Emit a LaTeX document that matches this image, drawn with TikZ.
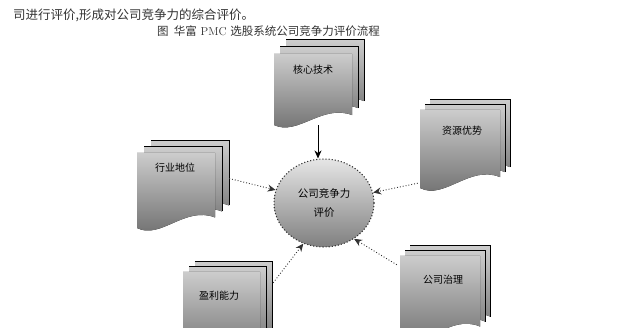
\documentclass[tikz,border=0pt]{standalone}
\usepackage{fontspec}
\newfontfamily\cjk{Noto Sans CJK SC}
\usetikzlibrary{arrows.meta,shapes.geometric}
\tikzset{
  docfill/.style={top color=black!20, bottom color=black!58, draw=none},
  docedge/.style={draw=black, line width=1pt},
  docbox/.style={rectangle, draw=none, inner sep=0pt},
  doclabel/.style={font=\cjk\fontsize{10}{12}\selectfont, inner sep=0pt, text=black},
  hub/.style={ellipse, draw=black!80, dotted, line width=1.1pt, top color=black!10, bottom color=black!50,
    minimum width=100pt, minimum height=88pt, inner sep=0pt, align=center,
    font=\cjk\fontsize{10.5}{12}\selectfont},
  feed/.style={-{Stealth[length=8pt,width=7pt]}, line width=0.9pt, black},
  dotfeed/.style={feed, dotted, draw=black!80},
  bodytext/.style={font=\cjk\fontsize{12.5}{14}\selectfont, inner sep=0pt, text=black!80},
  captext/.style={font=\fontsize{11.5}{14}\selectfont, inner sep=0pt, text=black!80},
}
% one page of a document stack: x y w h, top-left corner, y downward
\newcommand\docpage[5]{%
  \fill[docfill] (#1,#2) -- ({#1+#3},#2) -- ({#1+#3},{#2+0.86*#4})
    .. controls ({#1+0.62*#3},{#2+0.70*#4}) and ({#1+0.30*#3},{#2+1.16*#4}) .. (#1,{#2+#4}) -- cycle;
  \ifnum#5=1 \draw[docedge] (#1,#2) -- ({#1+#3},#2) -- ({#1+#3},{#2+0.86*#4});\fi
}
% x y w h dx dy : front page and two pages behind it
\newcommand\docstack[6]{%
  \docpage{#1+2*#5}{#2+2*#6}{#3}{#4}{1}
  \docpage{#1+#5}{#2+#6}{#3}{#4}{1}
  \docpage{#1}{#2}{#3}{#4}{0}
}
\begin{document}
\begin{tikzpicture}[x=1pt,y=-1pt]
  \fill[white] (0,0) rectangle (630,328);
  \useasboundingbox (0,0) rectangle (630,328);

  \node[bodytext, anchor=west] (body) at (13,15) {司进行评价,形成对公司竞争力的综合评价。};
  \node[captext, anchor=west] (cap) at (157,31) {{\cjk 图\ \ 华富} PMC {\cjk 选股系统公司竞争力评价流程}};

  \begin{scope}
    \clip (0,36) rectangle (630,328);
    \docstack{274}{54}{78}{71}{6}{-7}
    \docstack{420}{110}{80}{78}{5}{-5}
    \docstack{137}{153}{78}{75}{7}{-6}
    \docstack{183}{272}{77}{78}{6}{-5}
    \docstack{400}{256}{80}{82}{5}{-5}
  \end{scope}

  \node[docbox, minimum width=78pt, minimum height=71pt] (tech) at (313,89.5) {};
  \node[docbox, minimum width=80pt, minimum height=78pt] (rgt) at (460,149) {};
  \node[docbox, minimum width=78pt, minimum height=75pt] (lft) at (176,190.5) {};
  \node[docbox, minimum width=77pt, minimum height=78pt] (bl) at (221.5,311) {};
  \node[docbox, minimum width=80pt, minimum height=82pt] (br) at (440,297) {};

  \node[doclabel] (techtext) at (313,70) {核心技术};
  \node[doclabel] (rgttext) at (462,131) {资源优势};
  \node[doclabel] (lfttext) at (175,168) {行业地位};
  \node[doclabel] (bltext) at (219,296) {盈利能力};
  \node[doclabel] (brtext) at (443,280) {公司治理};

  \node[hub] (hub) at (324,203) {公司竞争力\\[7pt]评价};

  \draw[feed] ([xshift=5pt]tech.south) -- ([xshift=-6pt]hub.north);
  \draw[dotfeed] ([xshift=14pt,yshift=12pt]lft.east) -- (hub.165);
  \draw[dotfeed] ([xshift=-2pt,yshift=5pt]rgt.south west) -- (hub.12);
  \draw[dotfeed] ([xshift=13pt,yshift=-11pt]bl.north east) -- (hub.243);
  \draw[dotfeed] ([xshift=-3pt,yshift=-9pt]br.north west) -- (hub.-50);
\end{tikzpicture}
\end{document}
